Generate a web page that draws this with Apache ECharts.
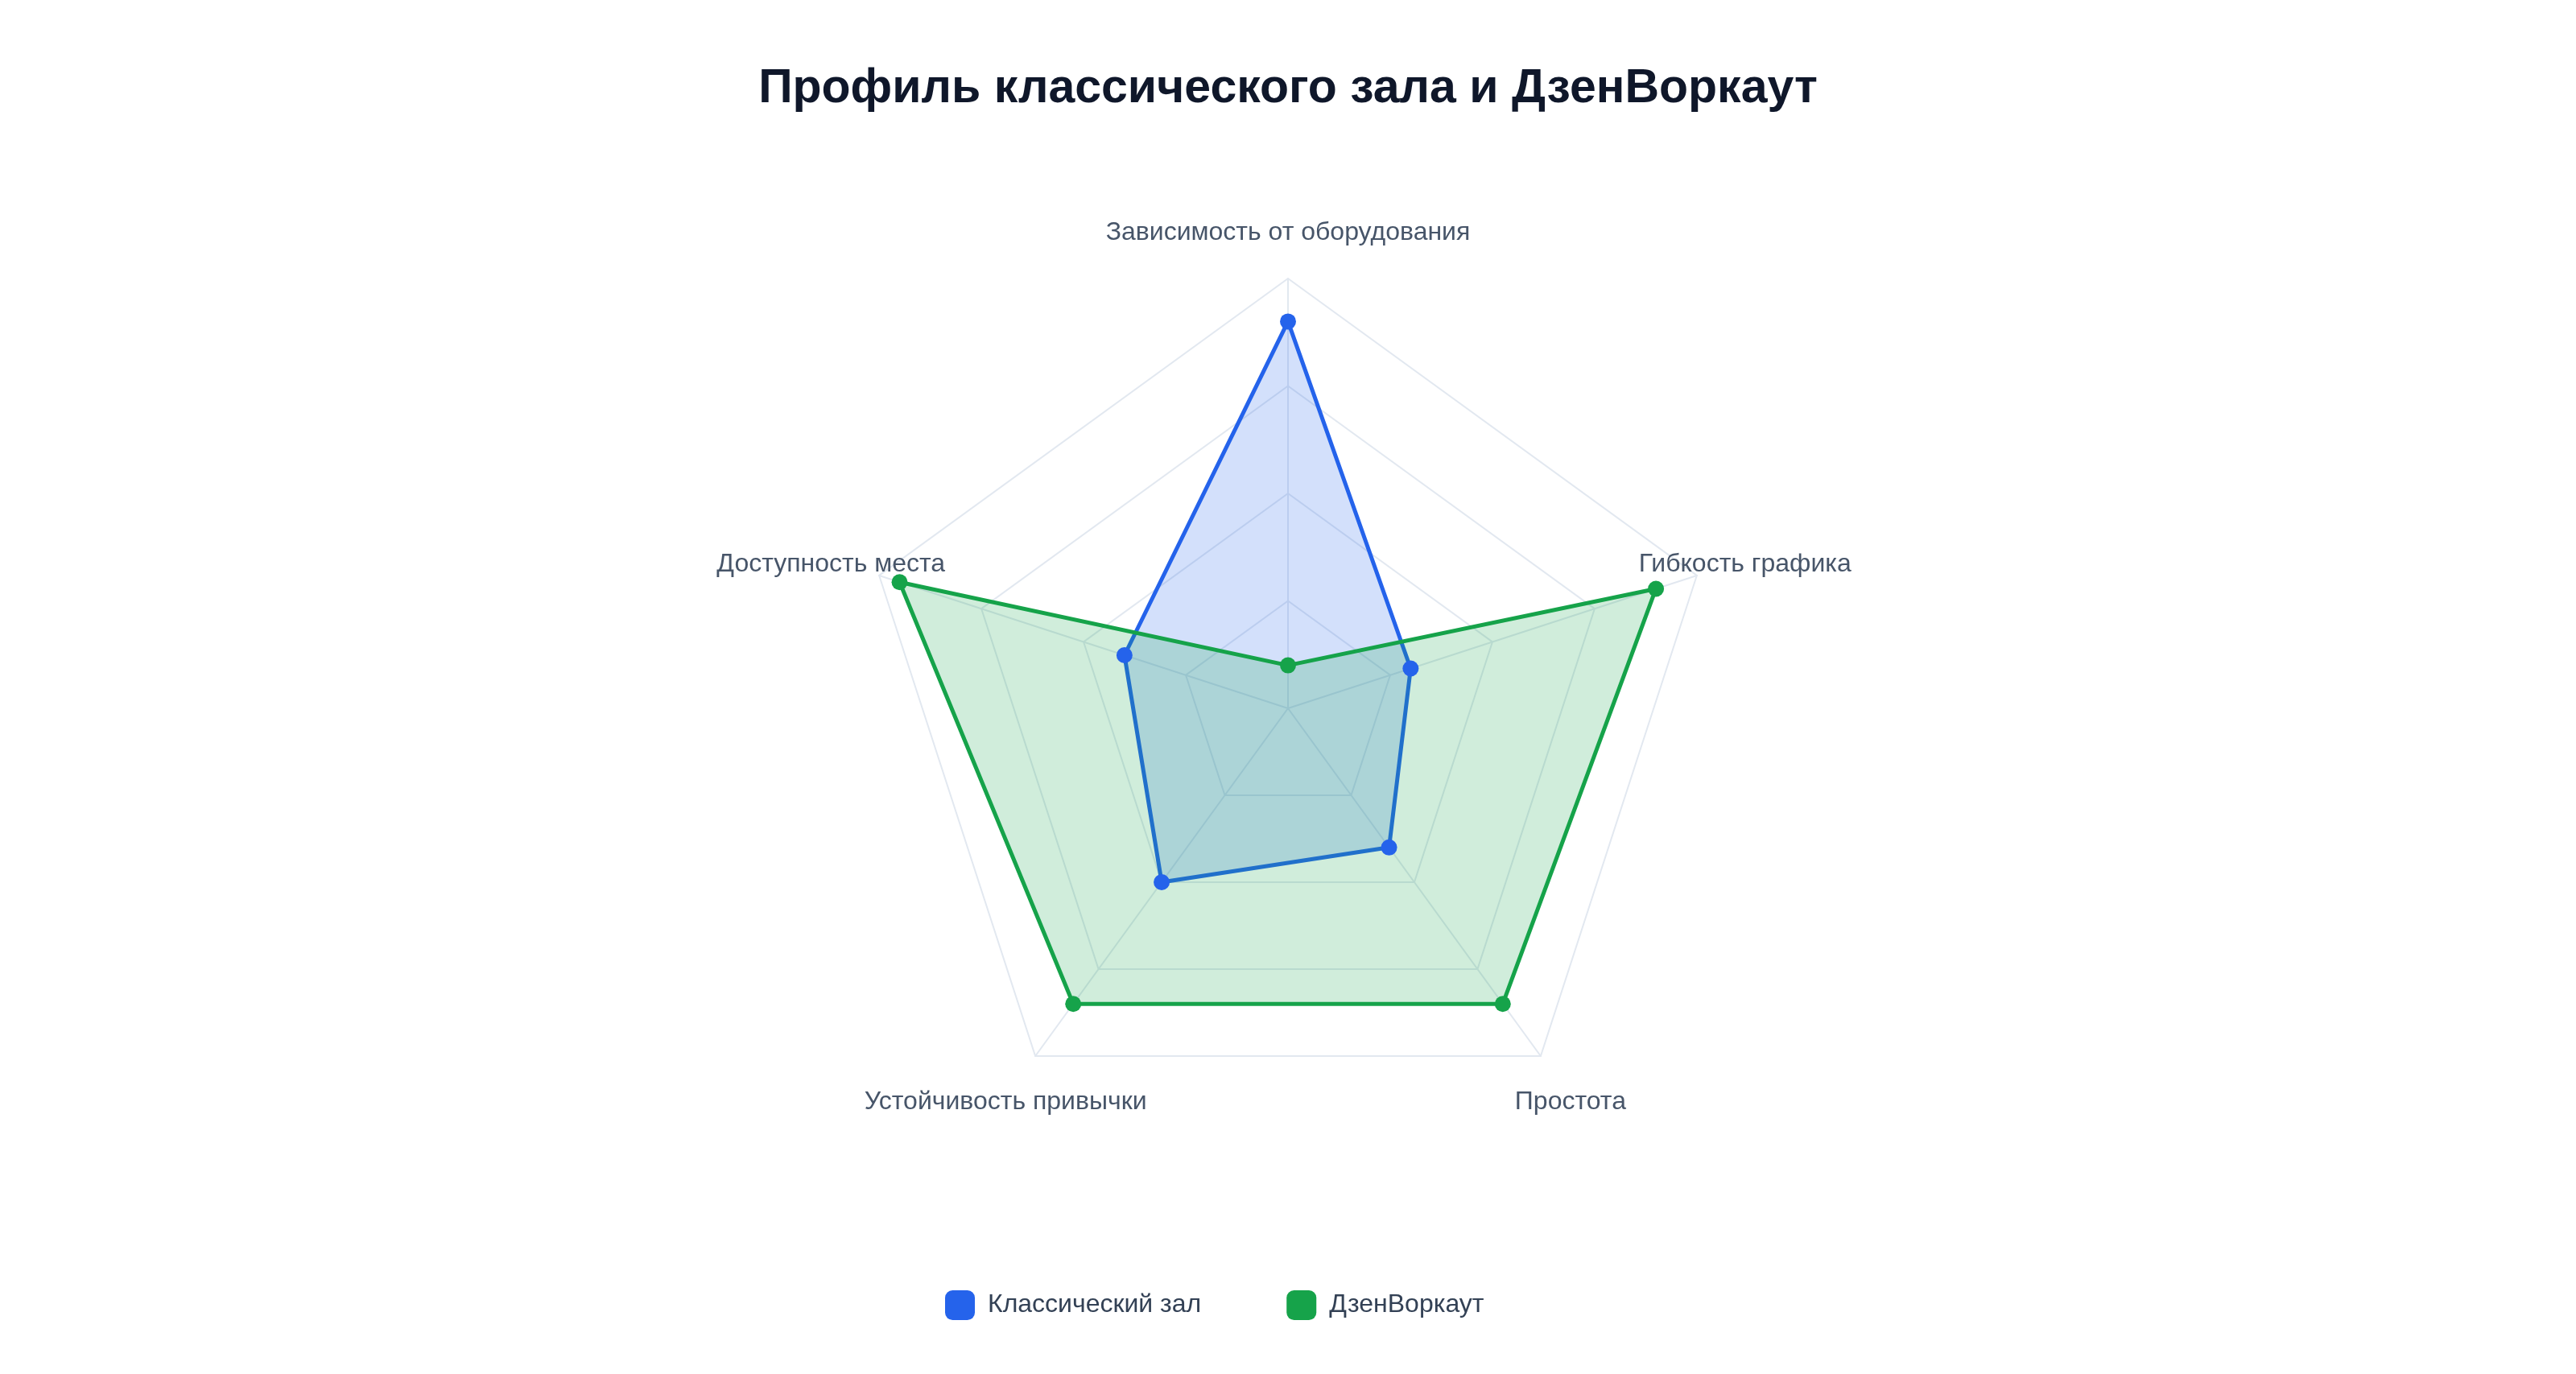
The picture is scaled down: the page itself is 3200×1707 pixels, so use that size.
<!DOCTYPE html>
<html>
<head>
<meta charset="utf-8">
<script src="https://cdn.jsdelivr.net/npm/echarts@6/dist/echarts.min.js"></script>
<style>
html,body{margin:0;padding:0;background:#ffffff;}
#chart{width:3200px;height:1707px;}
</style>
</head>
<body>
<div id="chart"></div>
<script>
const titleText = 'Профиль классического зала и ДзенВоркаут';
const indicators = ['Зависимость от оборудования', 'Доступность места', 'Устойчивость привычки', 'Простота', 'Гибкость графика'];
const maxValue = 100;
const seriesNames = ['Классический зал', 'ДзенВоркаут'];
const gymValues = [90, 40, 50, 40, 30];
const zenValues = [10, 95, 85, 85, 90];
const colors = ['#2563eb', '#16a34a'];

const chart = echarts.init(document.getElementById('chart'));
const fontFamily = '"Liberation Sans", Arial, Helvetica, sans-serif';
chart.setOption({
  backgroundColor: '#ffffff',
  textStyle: { fontFamily: fontFamily },
  title: {
    text: titleText,
    left: 'center',
    top: 76,
    textStyle: { fontSize: 59, fontWeight: 'bold', color: '#0f172a', fontFamily: fontFamily }
  },
  legend: {
    data: seriesNames,
    left: 1169,
    top: 1598,
    itemWidth: 37,
    itemHeight: 37,
    itemGap: 106,
    icon: 'roundRect',
    textStyle: { fontSize: 32, color: '#334155', padding: [0, 0, 0, 11] }
  },
  radar: {
    center: [1600, 880],
    radius: 534,
    startAngle: 90,
    splitNumber: 4,
    shape: 'polygon',
    nameGap: 63,
    axisName: {
      color: '#475569', fontSize: 32, fontFamily: fontFamily, align: 'center', verticalAlign: 'middle',
      formatter: function (name) { return '{n|' + name + '}'; },
      rich: { n: { color: '#475569', fontSize: 32, fontFamily: fontFamily, padding: [12, 0, 0, 0] } }
    },
    axisLine: { lineStyle: { color: '#e2e8f0', width: 2 } },
    splitLine: { lineStyle: { color: '#e2e8f0', width: 2 } },
    splitArea: { show: false },
    indicator: indicators.map(n => ({ name: n, max: maxValue, min: 0 }))
  },
  series: [
    {
      name: seriesNames[0],
      type: 'radar',
      symbol: 'circle',
      symbolSize: 20,
      itemStyle: { color: colors[0] },
      lineStyle: { color: colors[0], width: 5 },
      areaStyle: { color: colors[0], opacity: 0.2 },
      data: [{ value: gymValues, name: seriesNames[0] }]
    },
    {
      name: seriesNames[1],
      type: 'radar',
      symbol: 'circle',
      symbolSize: 20,
      itemStyle: { color: colors[1] },
      lineStyle: { color: colors[1], width: 5 },
      areaStyle: { color: colors[1], opacity: 0.2 },
      data: [{ value: zenValues, name: seriesNames[1] }]
    }
  ]
});
</script>
</body>
</html>
